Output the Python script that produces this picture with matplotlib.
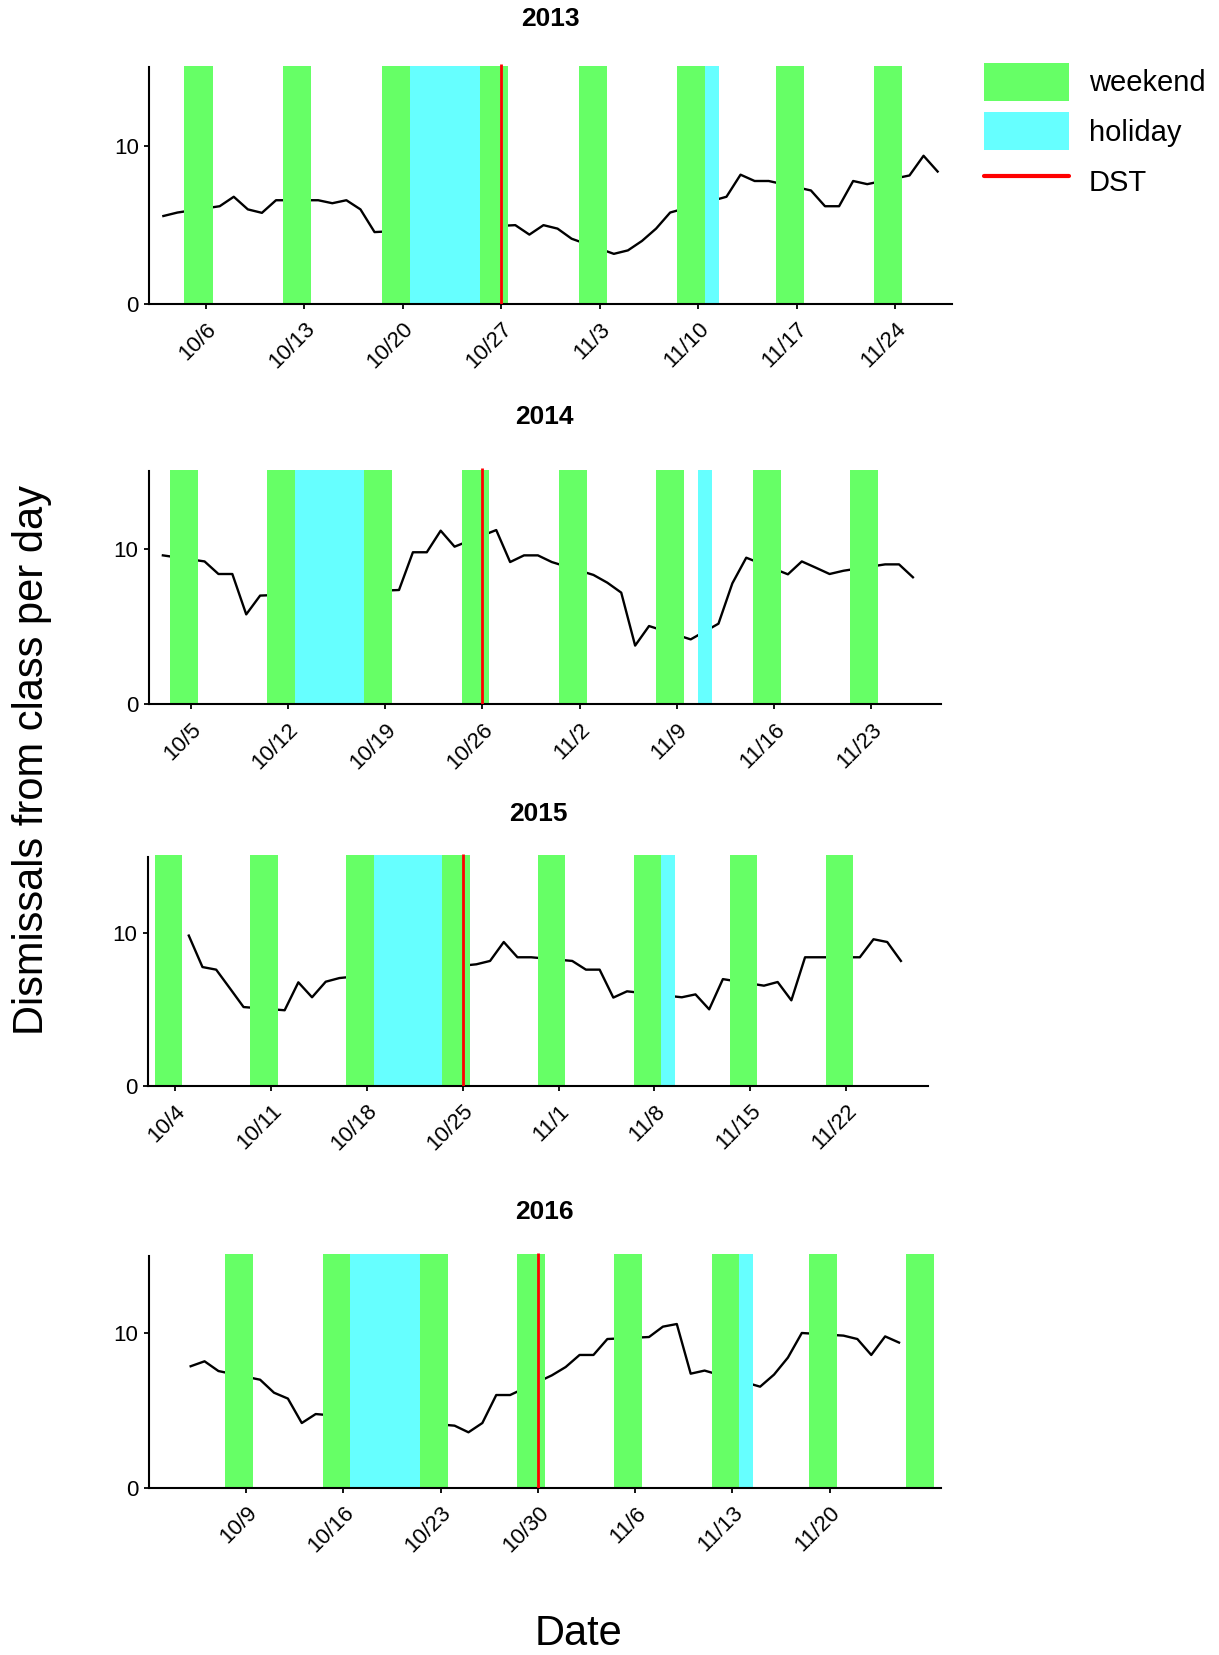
from datetime import datetime
import matplotlib
matplotlib.use("Agg")
import matplotlib.pyplot as plt
import matplotlib.dates as mdates
from matplotlib.patches import Patch
from matplotlib.lines import Line2D

plt.rcParams['font.family'] = ['Liberation Sans', 'DejaVu Sans']

GREEN = "#66FF66"
CYAN = "#66FFFF"
RED = "#FF0000"
BAR_TOP = 15.1

years = [2013, 2014, 2015, 2016]

# daily dismissals (school days only)
dates_2013 = ["10/3", "10/4", "10/7", "10/8", "10/9", "10/10", "10/11", "10/14", "10/15", "10/16",
              "10/17", "10/18", "10/28", "10/29", "10/30", "10/31", "11/1", "11/4", "11/5", "11/6",
              "11/7", "11/8", "11/12", "11/13", "11/14", "11/15", "11/18", "11/19", "11/20", "11/21",
              "11/22", "11/25", "11/26", "11/27"]
vals_2013 = [5.58, 5.8, 6.2, 6.8, 6.0, 5.78, 6.58, 6.58, 6.39, 6.58,
             6.0, 4.56, 5.0, 4.4, 5.0, 4.78, 4.14, 3.18, 3.4, 4.0,
             4.78, 5.8, 6.8, 8.2, 7.8, 7.8, 7.2, 6.2, 6.2, 7.8,
             7.6, 8.15, 9.4, 8.4]

dates_2014 = ["10/3", "10/6", "10/7", "10/8", "10/9", "10/10", "10/20", "10/21", "10/22", "10/23",
              "10/24", "10/27", "10/28", "10/29", "10/30", "10/31", "11/3", "11/4", "11/5", "11/6",
              "11/7", "11/10", "11/12", "11/13", "11/14", "11/17", "11/18", "11/19", "11/20", "11/21",
              "11/24", "11/25", "11/26"]
vals_2014 = [9.59, 9.2, 8.39, 8.39, 5.79, 7.0, 7.36, 9.79, 9.79, 11.18,
             10.15, 11.22, 9.16, 9.59, 9.59, 9.16, 8.33, 7.83, 7.19, 3.78,
             5.04, 4.18, 5.19, 7.79, 9.44, 8.37, 9.2, 8.8, 8.39, 8.6,
             9.01, 9.01, 8.18]

dates_2015 = ["10/5", "10/6", "10/7", "10/8", "10/9", "10/12", "10/13", "10/14", "10/15", "10/16",
              "10/26", "10/27", "10/28", "10/29", "10/30", "11/2", "11/3", "11/4", "11/5", "11/6",
              "11/10", "11/11", "11/12", "11/13", "11/16", "11/17", "11/18", "11/19", "11/20", "11/23",
              "11/24", "11/25", "11/26"]
vals_2015 = [9.85, 7.79, 7.62, 6.4, 5.17, 4.96, 6.79, 5.81, 6.83, 7.07,
             7.97, 8.19, 9.43, 8.43, 8.43, 8.19, 7.62, 7.62, 5.79, 6.2,
             5.81, 6.0, 5.02, 7.0, 6.57, 6.81, 5.61, 8.43, 8.43, 8.43,
             9.61, 9.43, 8.19]

dates_2016 = ["10/5", "10/6", "10/7", "10/10", "10/11", "10/12", "10/13", "10/14", "10/24", "10/25",
              "10/26", "10/27", "10/28", "10/31", "11/1", "11/2", "11/3", "11/4", "11/7", "11/8",
              "11/9", "11/10", "11/11", "11/15", "11/16", "11/17", "11/18", "11/21", "11/22", "11/23",
              "11/24", "11/25"]
vals_2016 = [7.87, 8.19, 7.56, 7.0, 6.16, 5.78, 4.2, 4.78, 4.03, 3.6,
             4.2, 6.01, 6.01, 7.28, 7.82, 8.6, 8.6, 9.63, 9.76, 10.43,
             10.6, 7.39, 7.59, 6.55, 7.33, 8.43, 10.02, 9.85, 9.63, 8.6,
             9.8, 9.4]

# saturdays of each weekend
weekends_2013 = ["10/5", "10/12", "10/19", "10/26", "11/2", "11/9", "11/16", "11/23"]
weekends_2014 = ["10/4", "10/11", "10/18", "10/25", "11/1", "11/8", "11/15", "11/22"]
weekends_2015 = ["10/3", "10/10", "10/17", "10/24", "10/31", "11/7", "11/14", "11/21"]
weekends_2016 = ["10/8", "10/15", "10/22", "10/29", "11/5", "11/12", "11/19", "11/26"]

holidays_2013 = [("10/21", "10/25"), ("11/11", "11/11")]
holidays_2014 = [("10/13", "10/17"), ("11/11", "11/11")]
holidays_2015 = [("10/19", "10/23"), ("11/9", "11/9")]
holidays_2016 = [("10/17", "10/21"), ("11/14", "11/14")]

dst_dates = ["10/27", "10/26", "10/25", "10/30"]

ticks_2013 = ["10/6", "10/13", "10/20", "10/27", "11/3", "11/10", "11/17", "11/24"]
ticks_2014 = ["10/5", "10/12", "10/19", "10/26", "11/2", "11/9", "11/16", "11/23"]
ticks_2015 = ["10/4", "10/11", "10/18", "10/25", "11/1", "11/8", "11/15", "11/22"]
ticks_2016 = ["10/9", "10/16", "10/23", "10/30", "11/6", "11/13", "11/20"]

panels = {
    2013: (dates_2013, vals_2013, weekends_2013, holidays_2013, ticks_2013),
    2014: (dates_2014, vals_2014, weekends_2014, holidays_2014, ticks_2014),
    2015: (dates_2015, vals_2015, weekends_2015, holidays_2015, ticks_2015),
    2016: (dates_2016, vals_2016, weekends_2016, holidays_2016, ticks_2016),
}

# panel boxes in pixels: left, right, baseline, px per unit, title y
layout = {
    2013: (149.3, 951.7, 304.0, 15.77, 19.5),
    2014: (149.0, 940.7, 704.3, 15.53, 417.0),
    2015: (147.7, 928.3, 1086.0, 15.27, 814.0),
    2016: (149.0, 940.7, 1488.0, 15.47, 1212.0),
}

W, H = 1219, 1655
fig = plt.figure(figsize=(W / 100, H / 100), dpi=100)


def day(year, s):
    return mdates.date2num(datetime.strptime(f"{year}/{s}", "%Y/%m/%d"))


YTOP = 15.3
for year, dst in zip(years, dst_dates):
    dates, vals, weekends, holidays, ticks = panels[year]
    left, right, base, ppu, ty = layout[year]
    top = base - YTOP * ppu
    ax = fig.add_axes([left / W, 1 - base / H, (right - left) / W, (base - top) / H])

    x = [day(year, d) for d in dates]
    ax.plot(x, vals, color="black", lw=1.7, zorder=1)

    sat = [day(year, s) for s in weekends]
    ax.bar([s + 0.5 for s in sat], BAR_TOP, width=2.0, color=GREEN, linewidth=0, zorder=2)

    for a, b in holidays:
        da, db = day(year, a), day(year, b)
        ax.bar((da + db) / 2, BAR_TOP, width=db - da + 1, color=CYAN, linewidth=0, zorder=2)

    ax.vlines(day(year, dst), 0, 15.2, color=RED, lw=2.0, zorder=3)

    ax.set_xlim(day(year, "10/2"), day(year, "11/28"))
    ax.set_ylim(0, YTOP)
    ax.set_yticks([0, 10])
    ax.set_xticks([day(year, t) for t in ticks])
    ax.set_xticklabels(ticks)

    for side in ["top", "right"]:
        ax.spines[side].set_visible(False)
    ax.spines["left"].set_bounds(0, 15)
    ax.spines["left"].set_linewidth(1.5)
    ax.spines["bottom"].set_linewidth(1.5)
    ax.tick_params(axis="both", length=3.5, width=1.3, labelsize=16)
    ax.tick_params(axis="y", pad=4)
    ax.tick_params(axis="x", pad=7)
    plt.setp(ax.get_xticklabels(), rotation=45, ha="right", va="top", rotation_mode="anchor")

    fig.text((left + right) / 2 / W, 1 - ty / H, str(year), ha="center", va="center",
             fontsize=19, fontweight="bold")

fig.text(31.7 / W, 1 - 760 / H, "Dismissals from class per day", rotation=90,
         ha="center", va="center", fontsize=30)
fig.text(578 / W, 1 - 1634 / H, "Date", ha="center", va="center", fontsize=30)

handles = [Patch(facecolor=GREEN, edgecolor="none"),
           Patch(facecolor=CYAN, edgecolor="none"),
           Line2D([], [], color=RED, lw=3, solid_capstyle="round")]
fig.legend(handles, ["weekend", "holiday", "DST"], loc="upper left",
           bbox_to_anchor=(984 / W, 1 - 62.7 / H), frameon=False, fontsize=21,
           handlelength=2.91, handleheight=1.63, handletextpad=0.68, labelspacing=0.4,
           borderpad=0, borderaxespad=0)

fig.savefig("out.png", dpi=100)
